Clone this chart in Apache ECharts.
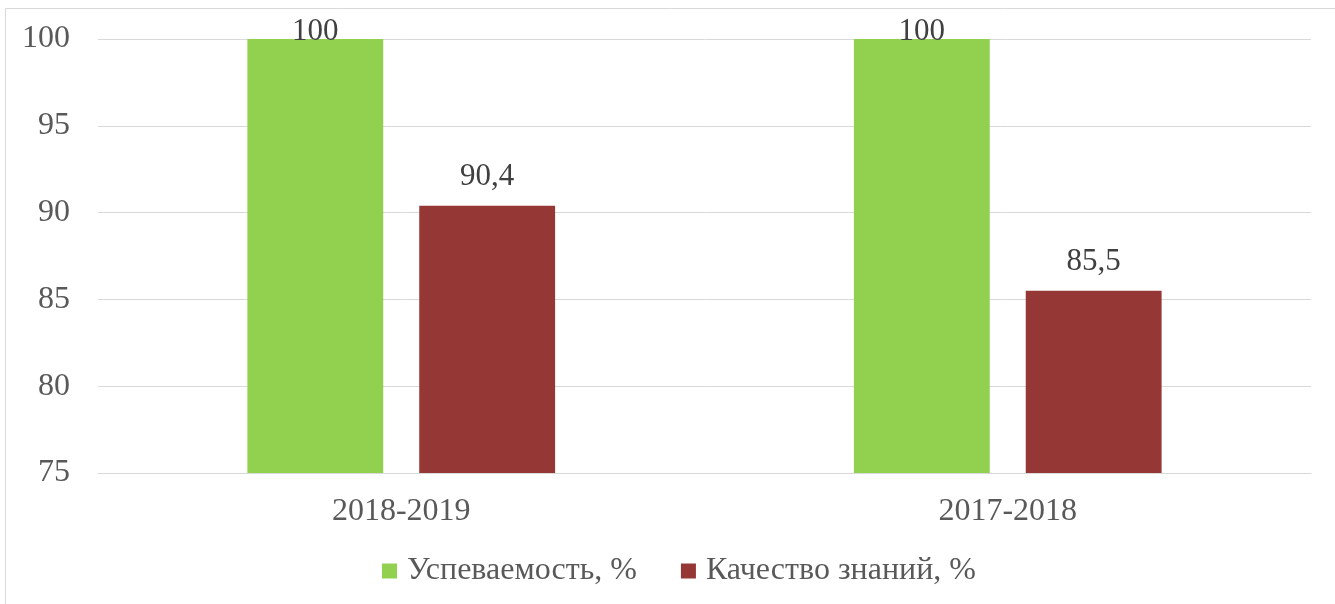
<!DOCTYPE html>
<html>
<head>
<meta charset="utf-8">
<script src="https://cdn.jsdelivr.net/npm/echarts@6/dist/echarts.min.js"></script>
<style>
  html, body { margin: 0; padding: 0; background: #fff; }
  #main { width: 1335px; height: 604px; }
</style>
</head>
<body>
<div id="main"></div>
<script>
// данные
const years = ['2018-2019', '2017-2018']
const uspevaemost = [100, 100]
const kachestvo = [90.4, 85.5]
const seriesNames = ['Успеваемость, %', 'Качество знаний, %']

const chart = echarts.init(document.getElementById('main'))
const font = 'Liberation Serif, Times New Roman, serif'

const option = {
  animation: false,
  textStyle: { fontFamily: font },
  // рамка диаграммы
  graphic: [{
    type: 'rect',
    shape: { x: 5.5, y: 8.5, width: 1340, height: 610 },
    style: { fill: 'none', stroke: '#d9d9d9', lineWidth: 1 },
    silent: true
  }],
  grid: { left: 98, right: 24, top: 39, bottom: 131 },
  legend: {
    bottom: 12,
    left: 377,
    itemWidth: 15,
    itemHeight: 15,
    itemGap: 44,
    icon: 'rect',
    textStyle: { fontFamily: font, fontSize: 32, color: '#595959', padding: [0, 0, 0, 5] },
    data: seriesNames
  },
  xAxis: {
    type: 'category',
    data: years,
    axisLine: { lineStyle: { color: '#d9d9d9', width: 1 } },
    axisTick: { show: false },
    axisLabel: { fontFamily: font, fontSize: 32, color: '#595959', margin: 23 }
  },
  yAxis: {
    type: 'value',
    min: 75,
    max: 100,
    interval: 5,
    axisLine: { show: false },
    axisTick: { show: false },
    splitLine: { lineStyle: { color: '#d9d9d9', width: 1 } },
    axisLabel: { fontFamily: font, fontSize: 32, color: '#595959', margin: 28 }
  },
  series: [
    {
      name: seriesNames[0],
      type: 'bar',
      data: uspevaemost,
      barWidth: '22.4%',
      barGap: '26.5%',
      itemStyle: { color: '#92d050' },
      label: {
        show: true,
        position: 'top',
        distance: -8,
        fontFamily: font,
        fontSize: 31,
        color: '#404040'
      }
    },
    {
      name: seriesNames[1],
      type: 'bar',
      data: kachestvo,
      barWidth: '22.4%',
      itemStyle: { color: '#953735' },
      label: {
        show: true,
        position: 'top',
        distance: 13,
        fontFamily: font,
        fontSize: 31,
        color: '#404040',
        formatter: p => String(p.value).replace('.', ',')
      }
    }
  ]
}

chart.setOption(option)
</script>
</body>
</html>
